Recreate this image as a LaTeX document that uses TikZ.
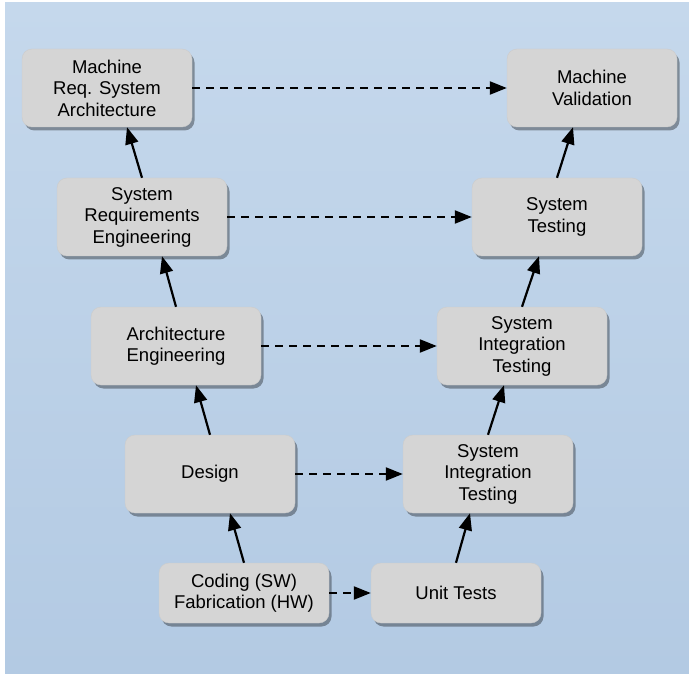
\documentclass[tikz,border=0pt]{standalone}
\usepackage{fontspec}
\setmainfont{Liberation Sans}
\usetikzlibrary{arrows.meta,shadows}

\definecolor{bgtop}{HTML}{C5D8EC}
\definecolor{bgmid}{HTML}{E0E9F4}
\definecolor{bgbot}{HTML}{B3CAE3}
\definecolor{boxgray}{HTML}{D5D5D5}

\tikzset{
  stage/.style={rectangle, rounded corners=10pt, fill=boxgray, draw=black!20, thin,
    minimum width=170pt, minimum height=78pt, align=center, text=black,
    font=\fontsize{18.5}{21.5}\selectfont,
    drop shadow={shadow xshift=2.5pt, shadow yshift=-3.5pt, opacity=0.35, fill=black}},
  lowstage/.style={stage, minimum height=60pt},
  upline/.style={-{Triangle[length=17pt,width=13pt]}, line width=2.2pt},
  checkline/.style={upline, dash pattern=on 8pt off 6pt},
}

\begin{document}
\begin{tikzpicture}[x=1pt, y=-1pt]
    \useasboundingbox (0,0) rectangle (689,674);
    \fill[white] (0,0) rectangle (689,674);
    \shade[top color=bgtop, middle color=bgmid, bottom color=bgbot] (5,3) rectangle (689,674);

    % left branch
    \node[stage] (mrsa) at (107,88) {Machine\\Req. System\\Architecture};
    \node[stage] (sre) at (142,217) {System\\Requirements\\Engineering};
    \node[stage] (ae) at (176,346) {Architecture\\Engineering};
    \node[stage] (design) at (210,474) {Design};
    \node[lowstage] (coding) at (244,593) {Coding (SW)\\Fabrication (HW)};

    % right branch
    \node[stage] (mv) at (592,88) {Machine\\Validation};
    \node[stage] (st) at (557,217) {System\\Testing};
    \node[stage] (sitb) at (522,346) {System\\Integration\\Testing};
    \node[stage] (sita) at (488,474) {System\\Integration\\Testing};
    \node[lowstage] (unit) at (456,593) {Unit Tests};

    % going up on the left
    \draw[upline] (coding.north) -- ([xshift=20pt]design.south);
    \draw[upline] (design.north) -- ([xshift=20pt]ae.south);
    \draw[upline] (ae.north) -- ([xshift=20pt]sre.south);
    \draw[upline] (sre.north) -- ([xshift=20pt]mrsa.south);

    % going up on the right
    \draw[upline] (unit.north) -- ([xshift=-18pt]sita.south);
    \draw[upline] (sita.north) -- ([xshift=-18pt]sitb.south);
    \draw[upline] (sitb.north) -- ([xshift=-18pt]st.south);
    \draw[upline] (st.north) -- ([xshift=-19pt]mv.south);

    % dashed links across
    \draw[checkline] (mrsa) -- (mv);
    \draw[checkline] (sre) -- (st);
    \draw[checkline] (ae) -- (sitb);
    \draw[checkline] (design) -- (sita);
    \draw[checkline] (coding) -- (unit);
\end{tikzpicture}
\end{document}
